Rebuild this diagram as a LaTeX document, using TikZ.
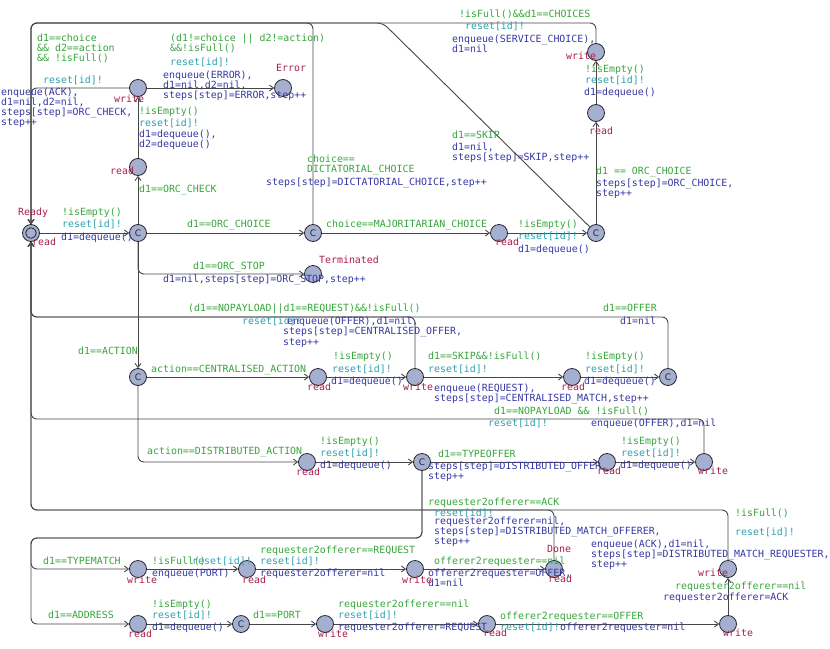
\documentclass[tikz,border=0pt]{standalone}
\usepackage{fontspec}
\usetikzlibrary{arrows.meta}
\newfontfamily\uppfont{DejaVu Sans Mono}
\newfontfamily\csans{DejaVu Sans}
\definecolor{gcol}{RGB}{55,165,60}
\definecolor{scol}{RGB}{45,160,172}
\definecolor{ucol}{RGB}{55,55,165}
\definecolor{ncol}{RGB}{170,30,75}
\definecolor{lfill}{RGB}{165,175,208}
\definecolor{lline}{RGB}{40,40,50}
\definecolor{ecol}{RGB}{70,70,70}
\newcounter{lblc}
\newcommand\lbl[4]{\stepcounter{lblc}\node[lab,#1] (lab\arabic{lblc}) at (#2,#3) {#4};}
\tikzset{
  lab/.style={anchor=west,inner sep=0pt,text height=7pt,text depth=2pt,font=\uppfont\fontsize{9.9}{10.4}\selectfont},
  g/.style={text=gcol},
  s/.style={text=scol},
  u/.style={text=ucol},
  n/.style={text=ncol},
  loc/.style={circle,minimum size=17pt,inner sep=0pt,fill=lfill,draw=lline,line width=0.8pt},
  com/.style={loc,font=\csans\fontsize{9}{10}\selectfont,text=lline},
  tr/.style={draw=ecol,line width=0.9pt,rounded corners=6pt,-{Straight Barb[length=4pt,width=6pt]}}
}
\begin{document}
\begin{tikzpicture}[x=1pt,y=-1pt]
\useasboundingbox (0,0) rectangle (830,648);
% helper coordinates
\coordinate (topline) at (0,23);
\coordinate (midline) at (0,317);
\coordinate (line3) at (0,419);
\coordinate (line4) at (0,510);
\coordinate (line5) at (0,538);
\coordinate (skipc) at (383,23);
% locations
\node[loc] (ready) at (31,233) {};
\node[com] (c1) at (138,233) {C};
\node[com] (c2) at (313,233) {C};
\node[com] (c3) at (596,233) {C};
\node[loc] (w1) at (138,88) {};
\node[loc] (err) at (283,88) {};
\node[loc] (r1) at (138,167) {};
\node[loc] (term) at (313,274) {};
\node[loc] (r2) at (499,233) {};
\node[loc] (w2) at (596,52) {};
\node[loc] (r3) at (596,113) {};
\node[com] (c4) at (138,377) {C};
\node[loc] (r4) at (318,377) {};
\node[loc] (w3) at (415,377) {};
\node[loc] (r5) at (572,377) {};
\node[com] (c5) at (668,377) {C};
\node[loc] (r6) at (307,462) {};
\node[com] (c6) at (422,462) {C};
\node[loc] (r7) at (607,462) {};
\node[loc] (w4) at (704,462) {};
\node[loc] (w5) at (138,569) {};
\node[loc] (r8) at (247,569) {};
\node[loc] (w6) at (415,569) {};
\node[loc] (done) at (554,569) {};
\node[loc] (w7) at (728,569) {};
\node[loc] (r9) at (138,624) {};
\node[com] (c7) at (241,624) {C};
\node[loc] (w8) at (325,624) {};
\node[loc] (r10) at (487,624) {};
\node[loc] (w9) at (728,624) {};
\draw[lline,line width=0.8pt] (ready) circle (5.3pt);
% transitions
\draw[tr] (ready) -- (c1);
\draw[tr] (c1) -- (r1);
\draw[tr] (r1) -- (w1);
\draw[tr] (w1) -- (err);
\draw[tr] (w1.west) -- (w1 -| ready) -- (ready.north);
\draw[tr] (c2.north) -- (c2 |- topline) -- (ready |- topline) -- (ready.north);
\draw[tr] (c3) -- (skipc) -- (ready |- topline) -- (ready.north);
\draw[tr] (w2.north) -- (w2 |- topline) -- (ready |- topline) -- (ready.north);
\draw[tr] (c3) -- (r3);
\draw[tr] (r3) -- (w2);
\draw[tr] (c1) -- (c2);
\draw[tr] (c2) -- (r2);
\draw[tr] (r2) -- (c3);
\draw[tr] (c1.south) -- (c1 |- term) -- (term.west);
\draw[tr] (c1) -- (c4);
\draw[tr] (c4) -- (r4);
\draw[tr] (r4) -- (w3);
\draw[tr] (w3) -- (r5);
\draw[tr] (r5) -- (c5);
\draw[tr] (w3.north) -- (w3 |- midline) -- (ready |- midline) -- (ready.south);
\draw[tr] (c5.north) -- (c5 |- midline) -- (ready |- midline) -- (ready.south);
\draw[tr] (c4.south) -- (c4 |- r6) -- (r6.west);
\draw[tr] (r6) -- (c6);
\draw[tr] (c6) -- (r7);
\draw[tr] (r7) -- (w4);
\draw[tr] (w4.north) -- (w4 |- line3) -- (ready |- line3) -- (ready.south);
\draw[tr] (done.north) -- (done |- line4) -- (ready |- line4) -- (ready.south);
\draw[tr] (w7.north) -- (w7 |- line4) -- (ready |- line4) -- (ready.south);
\draw[tr] (c6.south) -- (c6 |- line5) -- (ready |- line5) -- (ready |- w5) -- (w5.west);
\draw[tr] (c6.south) -- (c6 |- line5) -- (ready |- line5) -- (ready |- r9) -- (r9.west);
\draw[tr] (w5) -- (r8);
\draw[tr] (r8) -- (w6);
\draw[tr] (w6) -- (done);
\draw[tr] (r9) -- (c7);
\draw[tr] (c7) -- (w8);
\draw[tr] (w8) -- (r10);
\draw[tr] (r10) -- (w9);
\draw[tr] (w9) -- (w7);
% labels: top-left
\lbl{g}{37}{39}{d1==choice}
\lbl{g}{37}{49}{\&\& d2==action}
\lbl{g}{37}{59}{\&\& !isFull()}
\lbl{s}{43}{81}{reset[id]!}
\lbl{u}{1}{93}{enqueue(ACK),}
\lbl{u}{1}{103}{d1=nil,d2=nil,}
\lbl{u}{1}{113}{steps[step]=ORC\_CHECK,}
\lbl{u}{1}{123}{step++}
\lbl{n}{114}{100}{write}
\lbl{g}{170}{39}{(d1!=choice || d2!=action)}
\lbl{g}{170}{49}{\&\&!isFull()}
\lbl{s}{170}{63}{reset[id]!}
\lbl{u}{163}{76}{enqueue(ERROR),}
\lbl{u}{163}{86}{d1=nil,d2=nil,}
\lbl{u}{163}{96}{steps[step]=ERROR,step++}
\lbl{n}{276}{69}{Error}
\lbl{g}{139}{112}{!isEmpty()}
\lbl{s}{139}{124}{reset[id]!}
\lbl{u}{139}{135}{d1=dequeue(),}
\lbl{u}{139}{145}{d2=dequeue()}
\lbl{n}{110}{172}{read}
\lbl{g}{139}{190}{d1==ORC\_CHECK}
% top-right
\lbl{g}{459}{15}{!isFull()\&\&d1==CHOICES}
\lbl{s}{465}{27}{reset[id]!}
\lbl{u}{452}{40}{enqueue(SERVICE\_CHOICE),}
\lbl{u}{452}{50}{d1=nil}
\lbl{n}{566}{57}{write}
\lbl{g}{585}{70}{!isEmpty()}
\lbl{s}{585}{81}{reset[id]!}
\lbl{u}{584}{93}{d1=dequeue()}
\lbl{n}{589}{132}{read}
\lbl{g}{452}{136}{d1==SKIP}
\lbl{u}{452}{148}{d1=nil,}
\lbl{u}{452}{158}{steps[step]=SKIP,step++}
\lbl{g}{307}{160}{choice==}
\lbl{g}{307}{170}{DICTATORIAL\_CHOICE}
\lbl{u}{266}{183}{steps[step]=DICTATORIAL\_CHOICE,step++}
\lbl{g}{596}{172}{d1 == ORC\_CHOICE}
\lbl{u}{596}{184}{steps[step]=ORC\_CHOICE,}
\lbl{u}{596}{194}{step++}
% middle row
\lbl{n}{18}{213}{Ready}
\lbl{n}{32}{243}{read}
\lbl{g}{62}{213}{!isEmpty()}
\lbl{s}{62}{225}{reset[id]!}
\lbl{u}{61}{238}{d1=dequeue()}
\lbl{g}{187}{225}{d1==ORC\_CHOICE}
\lbl{g}{326}{225}{choice==MAJORITARIAN\_CHOICE}
\lbl{n}{495}{243}{read}
\lbl{g}{518}{225}{!isEmpty()}
\lbl{s}{518}{237}{reset[id]!}
\lbl{u}{518}{250}{d1=dequeue()}
\lbl{g}{193}{267}{d1==ORC\_STOP}
\lbl{n}{319}{261}{Terminated}
\lbl{u}{163}{280}{d1=nil,steps[step]=ORC\_STOP,step++}
% centralised
\lbl{g}{188}{309}{(d1==NOPAYLOAD||d1==REQUEST)\&\&!isFull()}
\lbl{s}{242}{322}{reset[id]!}
\lbl{u}{287}{322}{enqueue(OFFER),d1=nil,}
\lbl{u}{283}{332}{steps[step]=CENTRALISED\_OFFER,}
\lbl{u}{283}{343}{step++}
\lbl{g}{603}{309}{d1==OFFER}
\lbl{u}{620}{322}{d1=nil}
\lbl{g}{78}{352}{d1==ACTION}
\lbl{g}{151}{370}{action==CENTRALISED\_ACTION}
\lbl{n}{307}{388}{read}
\lbl{g}{333}{357}{!isEmpty()}
\lbl{s}{332}{370}{reset[id]!}
\lbl{u}{331}{382}{d1=dequeue()}
\lbl{n}{403}{388}{write}
\lbl{g}{428}{357}{d1==SKIP\&\&!isFull()}
\lbl{s}{428}{370}{reset[id]!}
\lbl{u}{434}{389}{enqueue(REQUEST),}
\lbl{u}{434}{399}{steps[step]=CENTRALISED\_MATCH,step++}
\lbl{n}{561}{388}{read}
\lbl{g}{585}{357}{!isEmpty()}
\lbl{s}{585}{370}{reset[id]!}
\lbl{u}{584}{382}{d1=dequeue()}
\lbl{g}{494}{412}{d1==NOPAYLOAD \&\& !isFull()}
\lbl{s}{488}{424}{reset[id]!}
\lbl{u}{591}{424}{enqueue(OFFER),d1=nil}
% distributed
\lbl{g}{147}{452}{action==DISTRIBUTED\_ACTION}
\lbl{n}{296}{473}{read}
\lbl{g}{320}{442}{!isEmpty()}
\lbl{s}{320}{454}{reset[id]!}
\lbl{u}{320}{466}{d1=dequeue()}
\lbl{g}{438}{455}{d1==TYPEOFFER}
\lbl{u}{428}{467}{steps[step]=DISTRIBUTED\_OFFER,}
\lbl{u}{428}{477}{step++}
\lbl{n}{597}{472}{read}
\lbl{g}{621}{442}{!isEmpty()}
\lbl{s}{621}{454}{reset[id]!}
\lbl{u}{620}{466}{d1=dequeue()}
\lbl{n}{698}{472}{write}
% bottom
\lbl{g}{428}{503}{requester2offerer==ACK}
\lbl{s}{434}{514}{reset[id]!}
\lbl{u}{434}{522}{requester2offerer=nil,}
\lbl{u}{434}{532}{steps[step]=DISTRIBUTED\_MATCH\_OFFERER,}
\lbl{u}{434}{542}{step++}
\lbl{g}{735}{514}{!isFull()}
\lbl{s}{735}{533}{reset[id]!}
\lbl{u}{591}{545}{enqueue(ACK),d1=nil,}
\lbl{u}{591}{555}{steps[step]=DISTRIBUTED\_MATCH\_REQUESTER,}
\lbl{u}{591}{565}{step++}
\lbl{n}{547}{550}{Done}
\lbl{n}{548}{580}{read}
\lbl{g}{43}{562}{d1==TYPEMATCH}
\lbl{n}{127}{581}{write}
\lbl{g}{152}{562}{!isFull()}
\lbl{s}{192}{562}{reset[id]!}
\lbl{u}{152}{574}{enqueue(PORT)}
\lbl{n}{242}{581}{read}
\lbl{g}{260}{551}{requester2offerer==REQUEST}
\lbl{s}{260}{562}{reset[id]!}
\lbl{u}{260}{574}{requester2offerer=nil}
\lbl{n}{402}{581}{write}
\lbl{g}{434}{562}{offerer2requester==nil}
\lbl{u}{428}{574}{offerer2requester=OFFER,}
\lbl{u}{428}{584}{d1=nil}
\lbl{n}{698}{574}{write}
\lbl{g}{675}{587}{requester2offerer==nil}
\lbl{u}{663}{598}{requester2offerer=ACK}
\lbl{g}{48}{616}{d1==ADDRESS}
\lbl{n}{128}{635}{read}
\lbl{g}{152}{605}{!isEmpty()}
\lbl{s}{152}{616}{reset[id]!}
\lbl{u}{152}{628}{d1=dequeue()}
\lbl{g}{253}{616}{d1==PORT}
\lbl{n}{318}{635}{write}
\lbl{g}{338}{605}{requester2offerer==nil}
\lbl{s}{338}{616}{reset[id]!}
\lbl{u}{338}{628}{requester2offerer=REQUEST}
\lbl{n}{483}{634}{read}
\lbl{g}{500}{617}{offerer2requester==OFFER}
\lbl{s}{500}{628}{reset[id]!}
\lbl{u}{560}{628}{offerer2requester=nil}
\lbl{n}{723}{634}{write}
\end{tikzpicture}
\end{document}
